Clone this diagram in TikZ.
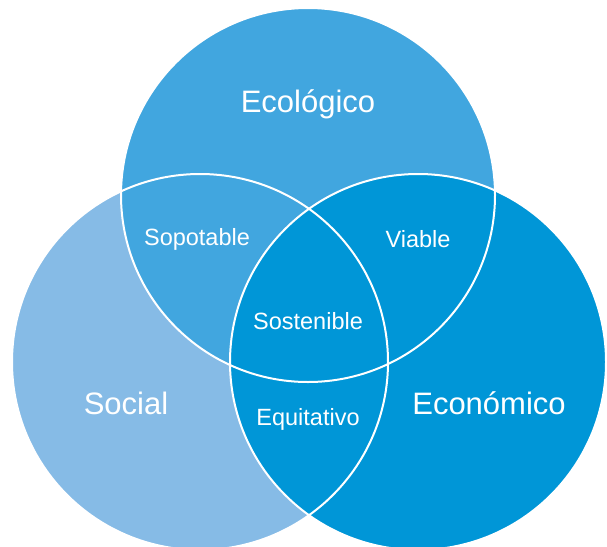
\documentclass[tikz,border=0pt]{standalone}
\usepackage{fontspec}
\setmainfont{Liberation Sans}
\definecolor{socialblue}{HTML}{86BBE6}
\definecolor{ecoblue}{HTML}{41A6DF}
\definecolor{econblue}{HTML}{0096D7}
\begin{document}
\begin{tikzpicture}[x=1pt,y=-1pt]
  \tikzstyle{big label}=[text=white,font=\fontsize{31}{33}\selectfont]
  \tikzstyle{small label}=[text=white,font=\fontsize{23.5}{25}\selectfont]
  \tikzstyle{rim}=[draw=white,line width=2pt]
  \clip (0,0) rectangle (607,546);
  % circles, back to front
  \fill[socialblue] (200,362) circle (188pt);
  \fill[ecoblue] (308,195) circle (187pt);
  \fill[econblue] (418,362) circle (188pt);
  \draw[rim] (200,362) circle (188pt);
  \draw[rim] (308,195) circle (187pt);
  \draw[rim] (418,362) circle (188pt);
  % labels
  \node[big label] (ecologico) at (308,104) {Ecológico};
  \node[big label] (social) at (126,403) {Social};
  \node[big label] (economico) at (489,403) {Económico};
  \node[small label] (sopotable) at (197,239) {Sopotable};
  \node[small label] (viable) at (418,239) {Viable};
  \node[small label] (sostenible) at (308,321) {Sostenible};
  \node[small label] (equitativo) at (308,419) {Equitativo};
\end{tikzpicture}
\end{document}
